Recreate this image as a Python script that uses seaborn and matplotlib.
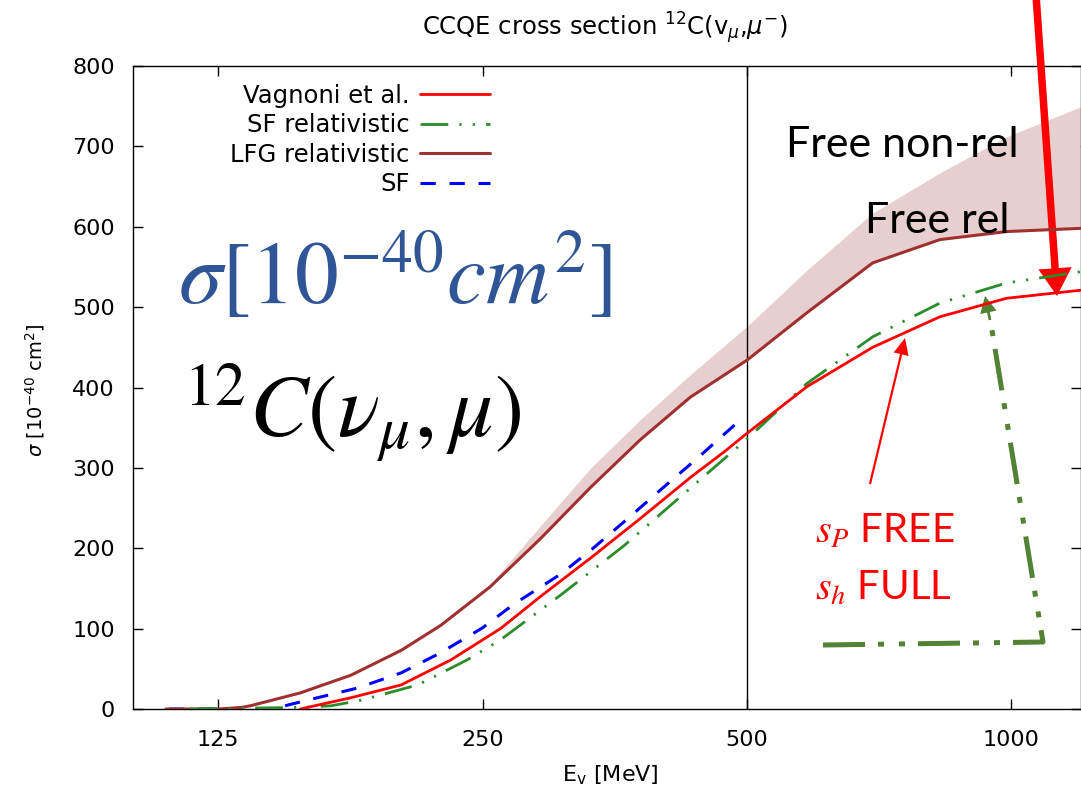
import matplotlib
matplotlib.use("Agg")
import matplotlib.pyplot as plt
from matplotlib.ticker import FixedLocator, FixedFormatter, NullLocator
from matplotlib.lines import Line2D
import seaborn as sns
import pandas as pd

# values: E in MeV, sigma in 1e-40 cm^2
e_vag = [155, 177, 202, 230, 262, 291, 332, 378, 431, 471, 500, 585, 695, 829, 987, 1198]
s_vag = [0, 14, 30, 61, 100, 140, 188, 237, 288, 320, 343, 401, 450, 488, 511, 521]

e_sfr = [116, 155, 168, 182, 211, 240, 262, 307, 362, 425, 500, 585, 695, 829, 987, 1198]
s_sfr = [0, 2, 4, 11, 30, 61, 86, 142, 203, 269, 336, 405, 463, 505, 530, 544]

e_lfg = [109, 125, 133, 136, 155, 177, 202, 224, 255, 291, 332, 378, 431, 500, 585, 695, 829, 987, 1198]
s_lfg = [0, 0, 2, 4, 20, 42, 73, 104, 152, 212, 276, 335, 388, 434, 493, 555, 584, 594, 598]

e_sf = [110, 144, 158, 180, 202, 224, 250, 271, 307, 334, 365, 398, 439, 487]
s_sf = [0, 0, 11, 26, 45, 70, 101, 130, 168, 200, 236, 272, 312, 356]

# free non-rel band (between LFG curve and upper edge)
e_band = [249, 291, 332, 378, 431, 500, 585, 695, 829, 987, 1198]
s_band_lo = [142, 212, 276, 335, 388, 434, 493, 555, 584, 594, 598]
s_band_hi = [142, 228, 300, 360, 416, 476, 546, 617, 667, 712, 749]

xticks = [125, 250, 500, 1000]
xtick_labels = ["125", "250", "500", "1000"]

sns.set_style("ticks")
plt.rcParams["font.family"] = ["DejaVu Sans"]
plt.rcParams["mathtext.fontset"] = "dejavusans"
plt.rcParams["text.color"] = "black"
plt.rcParams["axes.labelcolor"] = "black"

W, H = 1081, 798
fig = plt.figure(figsize=(W / 100, H / 100), dpi=100)
ax = fig.add_axes([133 / W, 1 - 709 / H, (W - 133) / W, (709 - 66) / H])

def fx(px):
    return px / W

def fy(py):
    return 1 - py / H

ax.fill_between(e_band, s_band_lo, s_band_hi, color="#e8cfcf", lw=0, zorder=1)
ax.axvline(500, color="black", lw=1, zorder=2)

df = pd.DataFrame({"E": e_vag, "s": s_vag})
sns.lineplot(data=df, x="E", y="s", ax=ax, color="#ff0000", lw=2.0,
             label="Vagnoni et al.", sort=False, estimator=None, zorder=6)
df = pd.DataFrame({"E": e_sfr, "s": s_sfr})
sns.lineplot(data=df, x="E", y="s", ax=ax, color="#2a8c2a", lw=2.0,
             linestyle=(0, (10, 4, 0.8, 4, 0.8, 4)),
             label="SF relativistic", sort=False, estimator=None, zorder=5)
df = pd.DataFrame({"E": e_lfg, "s": s_lfg})
sns.lineplot(data=df, x="E", y="s", ax=ax, color="#a03030", lw=2.2,
             label="LFG relativistic", sort=False, estimator=None, zorder=4)
df = pd.DataFrame({"E": e_sf, "s": s_sf})
sns.lineplot(data=df, x="E", y="s", ax=ax, color="#0000ff", lw=2.2,
             linestyle=(0, (5, 4.5)),
             label="SF", sort=False, estimator=None, zorder=3)

ax.set_xscale("log")
ax.set_xlim(100, 1200)
ax.set_ylim(0, 800)
ax.xaxis.set_major_locator(FixedLocator(xticks))
ax.xaxis.set_major_formatter(FixedFormatter(xtick_labels))
ax.xaxis.set_minor_locator(NullLocator())
ax.set_yticks(range(0, 801, 100))
ax.tick_params(direction="in", length=7, width=1, top=True, right=True,
               labelsize=16, colors="black")
ax.tick_params(axis="x", pad=15)
ax.tick_params(axis="y", pad=13)
for sp in ax.spines.values():
    sp.set_visible(True)
    sp.set_color("black")
    sp.set_linewidth(1)
ax.set_xlabel("")
ax.set_ylabel("")

leg = ax.legend(loc="upper right", bbox_to_anchor=((490 - 133) / 948, (709 - 84) / 643),
                frameon=False, markerfirst=False, fontsize=17.5, handlelength=2.9,
                handletextpad=0.4, labelspacing=0.22, borderpad=0, borderaxespad=0)
for col in leg._legend_box._children[-1]._children:
    col.align = "right"

fig.text(fx(605), fy(28), r"CCQE cross section $^{12}$C(v$_{\mu}$,$\mu^{-}$)",
         ha="center", va="center", fontsize=17.5)
fig.text(fx(610), fy(775), r"E$_{\rm v}$ [MeV]", ha="center", va="center", fontsize=16)
fig.text(fx(35), fy(390), r"$\sigma$ [10$^{-40}$ cm$^{2}$]", ha="center", va="center",
         rotation=90, fontsize=14)

# slide annotations
fig.text(fx(178), fy(304), r"$\sigma[10^{-40}cm^{2}]$", math_fontfamily="stix",
         color="#2f5597", fontsize=63, ha="left", va="baseline")
fig.text(fx(183), fy(438), r"$^{12}C(\nu_{\mu},\mu)$", math_fontfamily="stix",
         color="black", fontsize=63, ha="left", va="baseline")
fig.text(fx(786), fy(157), "Free non-rel", family="Lato", fontsize=31,
         color="black", ha="left", va="baseline")
fig.text(fx(865), fy(233), "Free rel", family="Lato", fontsize=31,
         color="black", ha="left", va="baseline")
fig.text(fx(815), fy(543), r"$s_P$ FREE", math_fontfamily="stix", family="Lato",
         color="red", fontsize=29, ha="left", va="baseline")
fig.text(fx(815), fy(600), r"$s_h$ FULL", math_fontfamily="stix", family="Lato",
         color="red", fontsize=29, ha="left", va="baseline")

ax.annotate("", xy=(fx(1057), fy(296)), xytext=(fx(1036), fy(-5)),
            xycoords="figure fraction", textcoords="figure fraction",
            arrowprops=dict(arrowstyle="simple,head_length=1.0,head_width=1.2,tail_width=0.27",
                            mutation_scale=20, color="red", lw=0, shrinkA=0, shrinkB=0),
            annotation_clip=False)
ax.annotate("", xy=(fx(905), fy(338)), xytext=(fx(870), fy(484)),
            xycoords="figure fraction", textcoords="figure fraction",
            arrowprops=dict(arrowstyle="simple,head_length=0.6,head_width=0.55,tail_width=0.08",
                            mutation_scale=20, color="red", lw=0, shrinkA=0, shrinkB=0),
            annotation_clip=False)

green = "#548235"
fig.add_artist(Line2D([fx(823), fx(1043), fx(990)], [fy(645), fy(642), fy(318)],
                      color=green, lw=3.6, linestyle=(0, (8.4, 2.6, 1.2, 3, 1.2, 2.6)),
                      transform=fig.transFigure))
ax.annotate("", xy=(fx(985), fy(296)), xytext=(fx(990), fy(320)),
            xycoords="figure fraction", textcoords="figure fraction",
            arrowprops=dict(arrowstyle="simple,head_length=0.6,head_width=0.6,tail_width=0.1",
                            mutation_scale=20, color=green, lw=0, shrinkA=0, shrinkB=0),
            annotation_clip=False)

fig.savefig("out.png", dpi=100)
